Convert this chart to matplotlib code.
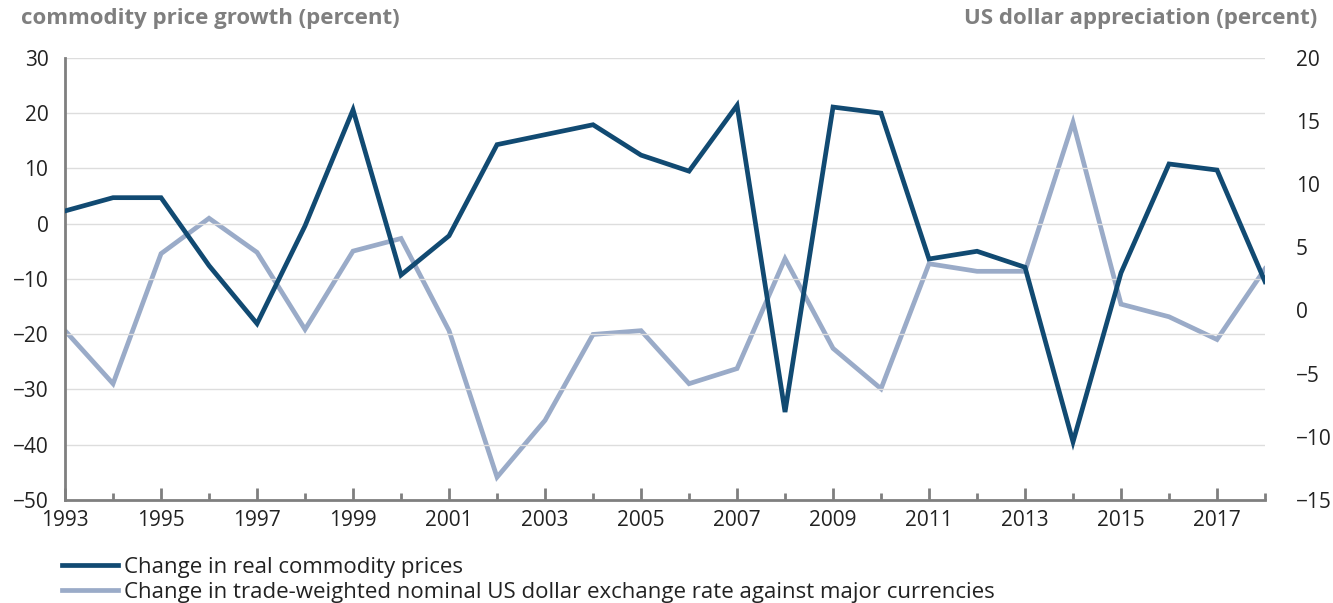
import numpy as np
import matplotlib.pyplot as plt
from matplotlib.ticker import MultipleLocator

years = np.arange(1993, 2019)

# change in real commodity prices (left axis, percent)
commodity = [2.3, 4.7, 4.7, -7.6, -18.1, -0.4, 20.6, -9.3, -2.2, 14.3,
             16.1, 17.9, 12.4, 9.5, 21.4, -34.1, 21.1, 20.0, -6.4, -5.0,
             -7.9, -39.5, -8.9, 10.8, 9.7, -10.5]

# change in trade-weighted nominal US dollar (right axis, percent)
dollar = [-1.6, -5.8, 4.5, 7.3, 4.6, -1.5, 4.7, 5.7, -1.6, -13.2,
          -8.7, -1.9, -1.6, -5.8, -4.6, 4.1, -3.0, -6.2, 3.7, 3.1,
          3.1, 14.9, 0.5, -0.5, -2.3, 3.3]

labels = ['Change in real commodity prices',
          'Change in trade-weighted nominal US dollar exchange rate against major currencies']

dark = '#114a72'
light = '#9aabc8'
grey = '#7f7f7f'
txt = '#222222'

plt.rcParams['font.family'] = ['Open Sans', 'DejaVu Sans']

fig = plt.figure(figsize=(13.33, 6.03), dpi=100)
ax = fig.add_axes([0.0488, 0.171, 0.9002, 0.733])
ax2 = ax.twinx()

l1, = ax.plot(years, commodity, color=dark, lw=3.4, solid_joinstyle='miter', zorder=3)
l2, = ax2.plot(years, dollar, color=light, lw=3.4, solid_joinstyle='miter', zorder=2)
ax.set_zorder(ax2.get_zorder() + 1)
ax.patch.set_visible(False)

ax.set_xlim(1993, 2018)
ax.set_ylim(-50, 30)
ax2.set_ylim(-15, 20)
ax.yaxis.set_major_locator(MultipleLocator(10))
ax2.yaxis.set_major_locator(MultipleLocator(5))
ax.set_xticks(np.arange(1993, 2018, 2))
ax.set_xticks(np.arange(1994, 2019, 2), minor=True)

ax.grid(axis='y', color='#dddddd', lw=1)
ax.set_axisbelow(True)

for a in (ax, ax2):
    a.spines['top'].set_visible(False)
    a.spines['right'].set_visible(False)
ax2.spines['left'].set_visible(False)
ax2.spines['bottom'].set_visible(False)
ax.spines['left'].set_color(grey)
ax.spines['bottom'].set_color(grey)
ax.spines['left'].set_linewidth(2)
ax.spines['bottom'].set_linewidth(2)

ax.tick_params(axis='x', which='major', direction='in', length=9, width=2,
               color=grey, labelsize=15, labelcolor=txt, pad=7)
ax.tick_params(axis='x', which='minor', direction='in', length=5, width=2, color=grey)
ax.tick_params(axis='y', length=0, labelsize=15, labelcolor=txt, pad=12)
ax2.tick_params(axis='y', length=0, labelsize=15, labelcolor=txt, pad=22)

fig.text(0.016, 0.952, 'commodity price growth (percent)', fontsize=16,
         fontweight='bold', color=grey, ha='left', va='bottom')
fig.text(0.988, 0.952, 'US dollar appreciation (percent)', fontsize=16,
         fontweight='bold', color=grey, ha='right', va='bottom')

fig.legend([l1, l2], labels, loc='upper left', bbox_to_anchor=(0.0465, 0.076),
           frameon=False, fontsize=16, handlelength=2.5, handletextpad=0.3,
           labelspacing=0.15, borderpad=0, borderaxespad=0, labelcolor=txt)

fig.savefig('out.png', dpi=100)
